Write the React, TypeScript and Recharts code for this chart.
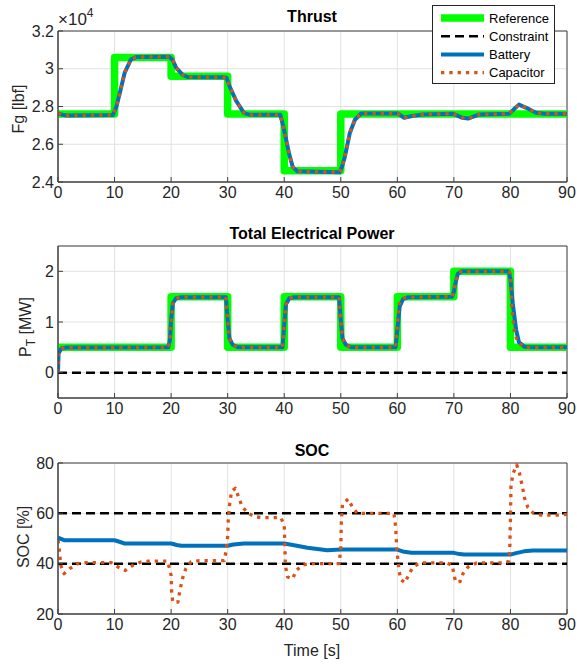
import React from "react";
import { LineChart, Line, XAxis, YAxis, CartesianGrid, ReferenceArea } from "recharts";

const timeTicks = [0, 10, 20, 30, 40, 50, 60, 70, 80, 90];

// Thrust [lbf]
const thrustRefTime = [0, 10, 10, 20, 20, 30, 30, 40, 40, 50, 50, 90];
const thrustRef = [27600, 27600, 30600, 30600, 29600, 29600, 27600, 27600, 24600, 24600, 27600, 27600];
const thrustTime = [
  0, 0.8, 1.5, 5, 9.7, 10.3, 10.9, 11.8, 12.9, 13.8, 19.7, 20.3, 20.9, 22.1, 23, 29.1, 29.8, 30.3, 31.5,
  32.9, 34, 39.3, 39.8, 40.3, 40.9, 41.5, 42.3, 49.8, 50.2, 50.7, 51.6, 52.5, 53.6, 60.1, 61.2, 62.4,
  64.5, 69.8, 71.5, 72.5, 74.5, 79.8, 80.7, 81.5, 82.8, 84.5, 86, 90,
];
const thrustBattery = [
  27640, 27560, 27520, 27540, 27550, 27960, 28670, 29800, 30500, 30620, 30630, 30450, 30050, 29660, 29560,
  29550, 29520, 29100, 28300, 27650, 27560, 27560, 27000, 26300, 25450, 24800, 24570, 24520, 24800, 25300,
  26600, 27300, 27630, 27630, 27400, 27480, 27580, 27620, 27400, 27360, 27580, 27620, 27880, 28100, 27930,
  27670, 27620, 27620,
];
const thrustCapacitor = thrustBattery;

// Total electrical power [MW]
const powerRefTime = [0, 20, 20, 30, 30, 40, 40, 50, 50, 60, 60, 70, 70, 80, 80, 90];
const powerRef = [0.5, 0.5, 1.5, 1.5, 0.5, 0.5, 1.5, 1.5, 0.5, 0.5, 1.5, 1.5, 2.0, 2.0, 0.5, 0.5];
const powerBatteryTime = [
  0, 0.1, 0.6, 1.5, 19.5, 19.8, 20, 20.3, 20.9, 21.8, 29.7, 30, 30.3, 30.9, 31.8, 39.7, 40, 40.3, 40.9,
  41.8, 49.7, 50, 50.3, 50.9, 51.8, 59.7, 60.1, 60.4, 61, 61.9, 69.7, 70, 70.3, 70.7, 71.3, 79.7, 80,
  80.4, 81, 81.5, 82.5, 83.5, 90,
];
const powerBattery = [
  0, 0.38, 0.48, 0.495, 0.5, 0.65, 1.04, 1.37, 1.47, 1.49, 1.49, 1.04, 0.68, 0.55, 0.5, 0.5, 0.95, 1.35,
  1.47, 1.49, 1.49, 1.04, 0.68, 0.55, 0.5, 0.5, 0.95, 1.3, 1.45, 1.49, 1.5, 1.6, 1.78, 1.95, 2.0, 2.0,
  1.85, 1.37, 0.85, 0.6, 0.51, 0.5, 0.5,
];
const powerCapacitorTime = [
  0, 0.1, 0.6, 1.5, 19.5, 19.8, 20, 20.3, 20.9, 21.8, 29.7, 30, 30.3, 30.9, 31.8, 39.7, 40, 40.3, 40.9,
  41.8, 49.7, 50, 50.3, 50.9, 51.8, 59.7, 60, 60.3, 60.9, 61.8, 69.7, 70, 70.3, 70.7, 71.3, 79.7, 80,
  80.2, 80.4, 80.7, 81.3, 82.5, 90,
];
const powerCapacitor = [
  0, 0.38, 0.48, 0.495, 0.5, 0.65, 1.04, 1.37, 1.47, 1.49, 1.49, 1.04, 0.68, 0.55, 0.5, 0.5, 0.95, 1.35,
  1.47, 1.49, 1.49, 1.04, 0.68, 0.55, 0.5, 0.5, 0.95, 1.35, 1.47, 1.49, 1.5, 1.6, 1.78, 1.95, 2.0, 2.0,
  1.95, 1.35, 1.1, 0.8, 0.6, 0.5, 0.5,
];
const powerConstraintTime = [0, 90];
const powerConstraint = [0, 0];

// SOC [%]
const socBatteryTime = [0, 1.2, 10, 11, 11.8, 20, 21, 21.8, 30, 31, 32.9, 40, 42, 44.1, 47.6, 50, 60, 61.2, 62.5, 70, 71, 71.8, 80, 81, 82.4, 84, 90];
const socBattery = [50.3, 49.3, 49.3, 48.6, 48, 48, 47.4, 47.1, 47.1, 47.6, 48, 48, 47.2, 46.3, 45.3, 45.6, 45.6, 44.7, 44.3, 44.3, 43.8, 43.6, 43.6, 44.2, 44.9, 45.2, 45.2];
const socCapacitorTime = [
  0, 0.2, 0.5, 1.06, 2.06, 3.4, 5, 9.4, 10.6, 11.9, 13.2, 14.7, 16, 19.4, 20, 20.1, 20.3, 21.2, 21.5, 22,
  22.6, 23.5, 25, 29.4, 29.7, 30, 30.1, 30.4, 30.7, 31.35, 31.9, 32.5, 33.4, 34.7, 36, 39.4, 40, 40.1,
  40.2, 40.6, 41.5, 42.1, 43.4, 45, 49.7, 50, 50.1, 50.3, 51.3, 52.1, 52.9, 59.4, 59.7, 59.9, 60.3, 60.6,
  61.35, 62.1, 62.8, 64, 68.8, 69.7, 70, 70.3, 71.1, 71.6, 72.5, 74, 79.1, 79.7, 79.9, 80, 80.1, 80.5,
  81.1, 81.6, 82.1, 82.5, 83.1, 84.1, 85.5, 88.8, 90,
];
const socCapacitor = [
  49.3, 46, 39.3, 36, 38, 40, 40.4, 40.4, 38.7, 37.3, 39.3, 40.7, 41, 41, 35.3, 28.7, 24.7, 24.7, 28.7, 34,
  38, 40.7, 41.2, 41.2, 44.7, 50.7, 57.3, 64.7, 68.7, 70, 66.7, 63, 60.4, 58.7, 58.3, 58.3, 55.3, 48.7,
  39.3, 34.7, 34, 37.3, 39.6, 40, 40, 46, 56.7, 63.6, 65.7, 62.3, 60, 60, 54.7, 46, 37.3, 33.7, 32.4, 36,
  38.7, 40.3, 40.3, 39.3, 36, 32.7, 32.9, 36, 38.7, 40.3, 40.3, 41, 47.3, 58, 71.3, 76, 79.3, 76, 70.7, 66,
  62.3, 60, 59.3, 59.3, 59.6,
];
const socUpperTime = [0, 90];
const socUpper = [60, 60];
const socLowerTime = [0, 90];
const socLower = [40, 40];

const toPoints = (t: number[], v: number[]) => t.map((x, i) => ({ t: x, v: v[i] }));

const FONT = "'Liberation Sans', Arial, Helvetica, sans-serif";
const GREEN = "#00ff00";
const BLUE = "#0072bd";
const ORANGE = "#d95319";
const AXIS = "#404040";

type Series = { key: string; data: { t: number; v: number }[]; kind: "ref" | "con" | "bat" | "cap" };

const styleFor = (kind: Series["kind"]) => {
  if (kind === "ref") return { stroke: GREEN, strokeWidth: 7.5 };
  if (kind === "con") return { stroke: "#000", strokeWidth: 2.5, strokeDasharray: "9 5" };
  if (kind === "bat") return { stroke: BLUE, strokeWidth: 4 };
  return { stroke: ORANGE, strokeWidth: 3.3, strokeDasharray: "3.3 5" };
};

const Panel = ({
  top,
  height,
  marginTop,
  xHeight,
  yDomain,
  yTicks,
  yFormat,
  series,
}: {
  top: number;
  height: number;
  marginTop: number;
  xHeight: number;
  yDomain: [number, number];
  yTicks: number[];
  yFormat?: (v: number) => string;
  series: Series[];
}) => (
  <div style={{ position: "absolute", left: 0, top }}>
    <LineChart width={577} height={height} margin={{ top: marginTop, right: 10, bottom: 0, left: 0 }}>
      <CartesianGrid stroke="#e2e2e2" />
      <XAxis
        dataKey="t"
        type="number"
        domain={[0, 90]}
        ticks={timeTicks}
        interval={0}
        height={xHeight}
        tickSize={-5}
        tickMargin={10}
        stroke={AXIS}
        tick={{ fill: "#262626", fontSize: 16, fontFamily: FONT }}
        allowDataOverflow
      />
      <YAxis
        type="number"
        domain={yDomain}
        ticks={yTicks}
        interval={0}
        width={58}
        tickSize={-5}
        tickMargin={9}
        tickFormatter={yFormat}
        stroke={AXIS}
        tick={{ fill: "#262626", fontSize: 16, fontFamily: FONT }}
        allowDataOverflow
      />
      <ReferenceArea x1={0} x2={90} y1={yDomain[0]} y2={yDomain[1]} fill="none" stroke={AXIS} strokeWidth={1} />
      {series.map((s) => (
        <Line
          key={s.key}
          data={s.data}
          dataKey="v"
          type="linear"
          dot={false}
          activeDot={false}
          strokeLinejoin="round"
          isAnimationActive={false}
          {...styleFor(s.kind)}
        />
      ))}
    </LineChart>
  </div>
);

const legendRows = [
  { label: "Reference", kind: "ref" as const },
  { label: "Constraint", kind: "con" as const },
  { label: "Battery", kind: "bat" as const },
  { label: "Capacitor", kind: "cap" as const },
];

export default function App() {
  return (
    <div style={{ position: "absolute", left: 0, top: 0, width: 577, height: 665, background: "#fff", fontFamily: FONT }}>
      <Panel
        top={0}
        height={210}
        marginTop={31}
        xHeight={28}
        yDomain={[24000, 32000]}
        yTicks={[24000, 26000, 28000, 30000, 32000]}
        yFormat={(v) => String(v / 1e4)}
        series={[
          { key: "ref", data: toPoints(thrustRefTime, thrustRef), kind: "ref" },
          { key: "bat", data: toPoints(thrustTime, thrustBattery), kind: "bat" },
          { key: "cap", data: toPoints(thrustTime, thrustCapacitor), kind: "cap" },
        ]}
      />
      <Panel
        top={220}
        height={200}
        marginTop={26}
        xHeight={22}
        yDomain={[-0.5, 2.5]}
        yTicks={[0, 1, 2]}
        series={[
          { key: "ref", data: toPoints(powerRefTime, powerRef), kind: "ref" },
          { key: "con", data: toPoints(powerConstraintTime, powerConstraint), kind: "con" },
          { key: "bat", data: toPoints(powerBatteryTime, powerBattery), kind: "bat" },
          { key: "cap", data: toPoints(powerCapacitorTime, powerCapacitor), kind: "cap" },
        ]}
      />
      <Panel
        top={430}
        height={210}
        marginTop={33}
        xHeight={26}
        yDomain={[20, 80]}
        yTicks={[20, 40, 60, 80]}
        series={[
          { key: "up", data: toPoints(socUpperTime, socUpper), kind: "con" },
          { key: "lo", data: toPoints(socLowerTime, socLower), kind: "con" },
          { key: "bat", data: toPoints(socBatteryTime, socBattery), kind: "bat" },
          { key: "cap", data: toPoints(socCapacitorTime, socCapacitor), kind: "cap" },
        ]}
      />

      <svg width={577} height={665} style={{ position: "absolute", left: 0, top: 0, pointerEvents: "none" }} fontFamily={FONT}>
        <text x={312} y={22} textAnchor="middle" fontSize={16} fontWeight="bold" fill="#000">Thrust</text>
        <text x={312} y={239} textAnchor="middle" fontSize={16} fontWeight="bold" fill="#000">Total Electrical Power</text>
        <text x={312} y={456} textAnchor="middle" fontSize={16} fontWeight="bold" fill="#000">SOC</text>
        <text x={312} y={656} textAnchor="middle" fontSize={16} fill="#262626">Time [s]</text>

        <text x={58} y={25} fontSize={17} fill="#262626">
          ×10<tspan fontSize={12} dy={-8}>4</tspan>
        </text>

        <text x={24} y={109} textAnchor="middle" fontSize={16} fill="#262626" transform="rotate(-90 24 109)">Fg [lbf]</text>
        <text x={31} y={327} textAnchor="middle" fontSize={16} fill="#262626" transform="rotate(-90 31 327)">
          P<tspan fontSize={12} dy={4}>T</tspan><tspan dy={-4}> [MW]</tspan>
        </text>
        <text x={29} y={537} textAnchor="middle" fontSize={16} fill="#262626" transform="rotate(-90 29 537)">SOC [%]</text>

        <rect x={432.5} y={5.5} width={122} height={78} fill="#fff" stroke="#262626" strokeWidth={1} />
        {legendRows.map((r, i) => {
          const y = 18 + i * 18.2;
          return (
            <g key={r.label}>
              <line x1={441} x2={484} y1={y} y2={y} {...styleFor(r.kind)} />
              <text x={489} y={y + 4.6} fontSize={13} fill="#000">{r.label}</text>
            </g>
          );
        })}
      </svg>
    </div>
  );
}
